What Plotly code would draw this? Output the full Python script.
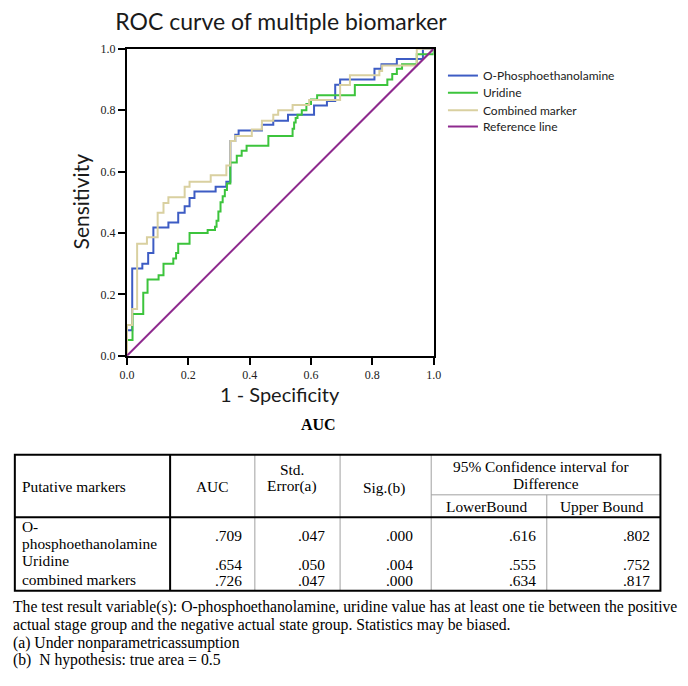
import plotly.graph_objects as go

W, H = 688, 686

# ---------------- ROC data: (1 - specificity, sensitivity) step vertices ----------------
opea_fpr = [0, 0, 0.017, 0.05, 0.069, 0.086, 0.135, 0.167, 0.188, 0.204, 0.22, 0.289, 0.324, 0.337,
            0.353, 0.364, 0.44, 0.477, 0.525, 0.61, 0.652, 0.679, 0.695, 0.807, 0.83, 0.88, 0.965, 1.0]
opea_tpr = [0, 0.083, 0.284, 0.30, 0.335, 0.418, 0.434, 0.466, 0.487, 0.514, 0.535, 0.551, 0.567, 0.70,
            0.72, 0.734, 0.753, 0.766, 0.785, 0.815, 0.83, 0.883, 0.90, 0.935, 0.95, 0.967, 1.0, 1.0]

uri_fpr = [0, 0, 0.018, 0.053, 0.067, 0.103, 0.119, 0.151, 0.16, 0.167, 0.204, 0.263, 0.287, 0.292,
           0.298, 0.305, 0.312, 0.319, 0.326, 0.337, 0.358, 0.374, 0.39, 0.461, 0.54, 0.545, 0.55,
           0.556, 0.57, 0.585, 0.60, 0.62, 0.743, 0.849, 0.865, 0.88, 0.897, 0.945, 1.0]
uri_tpr = [0, 0.051, 0.136, 0.205, 0.248, 0.262, 0.30, 0.317, 0.335, 0.365, 0.40, 0.41, 0.42, 0.44,
           0.47, 0.50, 0.52, 0.54, 0.561, 0.63, 0.652, 0.668, 0.684, 0.716, 0.74, 0.76, 0.775,
           0.785, 0.80, 0.82, 0.835, 0.849, 0.882, 0.90, 0.918, 0.935, 0.95, 0.982, 1.0]

comb_fpr = [0, 0, 0.017, 0.033, 0.065, 0.10, 0.119, 0.135, 0.188, 0.204, 0.273, 0.324, 0.337, 0.353,
            0.407, 0.44, 0.477, 0.493, 0.54, 0.594, 0.695, 0.727, 0.823, 0.832, 0.945, 1.0]
comb_tpr = [0, 0.10, 0.152, 0.365, 0.386, 0.466, 0.498, 0.516, 0.551, 0.567, 0.588, 0.62, 0.70, 0.716,
            0.737, 0.766, 0.785, 0.80, 0.817, 0.833, 0.882, 0.914, 0.928, 0.946, 1.0, 1.0]

ref_x = [0, 1]
ref_y = [0, 1]

series_names = ["O-Phosphoethanolamine", "Uridine", "Combined marker", "Reference line"]
axis_ticks = [0.0, 0.2, 0.4, 0.6, 0.8, 1.0]

# ---------------- AUC table data ----------------
table_title = "AUC"
marker_names = [["O-", "phosphoethanolamine"], ["Uridine"], ["combined markers"]]
auc_vals = [0.709, 0.654, 0.726]
std_err_vals = [0.047, 0.050, 0.047]
sig_vals = [0.000, 0.004, 0.000]
lower_vals = [0.616, 0.555, 0.634]
upper_vals = [0.802, 0.752, 0.817]
footnotes = [
    "The test result variable(s): O-phosphoethanolamine, uridine value has at least one tie between the positive",
    "actual stage group and the negative actual state group. Statistics may be biased.",
    "(a) Under nonparametricassumption",
    "(b)  N hypothesis: true area = 0.5",
]

# ---------------- helpers (pixel -> paper) ----------------
def px(x):
    return x / W

def py(y):
    return 1 - y / H

SANS = "Lato"
SERIF = "Liberation Serif"

fig = go.Figure()
colors = ["#3d5cc4", "#3cc43c", "#d9d0a0", "#8e2a8e"]
data = [(opea_fpr, opea_tpr), (uri_fpr, uri_tpr), (comb_fpr, comb_tpr)]
legend_ids = ["legend", "legend2", "legend3", "legend4"]
for i, (xs, ys) in enumerate(data):
    fig.add_trace(go.Scatter(x=xs, y=ys, mode="lines", name=series_names[i],
                             line=dict(color=colors[i], width=2, shape="hv"),
                             legend=legend_ids[i], hoverinfo="skip"))
fig.add_trace(go.Scatter(x=ref_x, y=ref_y, mode="lines", name=series_names[3],
                         line=dict(color=colors[3], width=2), legend=legend_ids[3], hoverinfo="skip"))

axis_common = dict(range=[0, 1], tickvals=axis_ticks, tickformat=".1f", showgrid=False, zeroline=False,
                   showline=True, linewidth=2, linecolor="black", mirror=True,
                   ticks="outside", ticklen=7, tickwidth=1.5, tickcolor="black",
                   tickfont=dict(family=SERIF, size=12, color="#222"))

legend_centers = [70, 87.5, 105.5, 122]
legend_layout = {}
for lid, cy in zip(legend_ids, legend_centers):
    legend_layout[lid] = dict(x=px(445), xanchor="left", y=py(cy), yanchor="middle",
                              bgcolor="rgba(0,0,0,0)", borderwidth=0,
                              font=dict(family=SANS, size=12, color="#222"))

fig.update_layout(
    width=W, height=H, margin=dict(l=0, r=0, t=0, b=0),
    paper_bgcolor="white", plot_bgcolor="white",
    xaxis=dict(domain=[px(122.5), px(435.5)], **axis_common),
    yaxis=dict(domain=[py(356), py(42.7)], **axis_common),
    title=dict(text="ROC curve of multiple biomarker", x=px(281), y=py(22), xanchor="center",
               yanchor="middle", font=dict(family=SANS, size=23, color="#1a1a1a")),
    showlegend=True,
    **legend_layout,
)

ann = []
shapes = []

def text(x, y, s, size=15.4, anchor="center", family=SERIF, bold=False, angle=0, color="black"):
    ann.append(dict(x=px(x), y=py(y), xref="paper", yref="paper", text=("<b>%s</b>" % s) if bold else s,
                    showarrow=False, xanchor=anchor, yanchor="middle", textangle=angle,
                    font=dict(family=family, size=size, color=color)))

def line(x0, y0, x1, y1, w=1, color="black"):
    shapes.append(dict(type="line", xref="paper", yref="paper", x0=px(x0), y0=py(y0), x1=px(x1), y1=py(y1),
                       line=dict(color=color, width=w)))

# axis titles
text(279, 395, "1 - Specificity", size=20, family=SANS, color="#1a1a1a")
text(75, 198, "Sensitivity", size=21, family=SANS, angle=-90, color="#1a1a1a")

# ---------------- table ----------------
cols = [8, 166.5, 253, 340, 433, 551, 667]
t_top, t_sub, t_head, t_bot = 457, 498, 521, 596

text(318, 426, table_title, size=16, bold=True)

grey = "#a0a0a0"
for cx in cols[2:5]:
    line(cx, t_top, cx, t_bot, 1, grey)
line(cols[5], t_sub, cols[5], t_bot, 1, grey)
line(cols[4], t_sub, cols[6], t_sub, 1, grey)
line(cols[0], t_head, cols[6], t_head, 2)
line(cols[1], t_top, cols[1], t_bot, 2)
shapes.append(dict(type="rect", xref="paper", yref="paper", x0=px(cols[0]), x1=px(cols[6]),
                   y0=py(t_top), y1=py(t_bot), line=dict(color="black", width=2)))

# header
text(13, 489, "Putative markers", anchor="left")
text(210, 489, "AUC")
text(291, 472, "Std.")
text(291, 489, "Error(a)")
text(385, 491, "Sig.(b)")
text(545, 469, "95% Confidence interval for")
text(550, 486, "Difference")
text(490, 510, "LowerBound")
text(607, 510, "Upper Bound")

# rows
label_ys = [[530, 548], [565], [584]]
value_ys = [539, 569, 585]
value_right = [242, 327, 416, 542, 658]

def fmt(v):
    return ("%.3f" % v).lstrip("0")

for r in range(3):
    for s, yy in zip(marker_names[r], label_ys[r]):
        text(13, yy, s, anchor="left")
    vals = [auc_vals[r], std_err_vals[r], sig_vals[r], lower_vals[r], upper_vals[r]]
    for v, xr in zip(vals, value_right):
        text(xr, value_ys[r], fmt(v), anchor="right")

for i, s in enumerate(footnotes):
    text(4, 613 + 18 * i, s, size=15.7, anchor="left")

fig.update_layout(annotations=ann, shapes=shapes)
fig.write_html("out.html", config={"displayModeBar": False},
               post_script="document.body.style.margin='0';")
